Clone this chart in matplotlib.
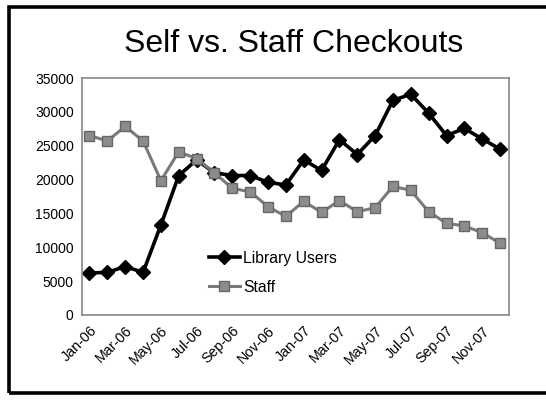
import matplotlib
matplotlib.use("Agg")
import matplotlib.pyplot as plt
from matplotlib.patches import Rectangle
from matplotlib.transforms import ScaledTranslation

plt.rcParams['font.family'] = ['Liberation Sans', 'DejaVu Sans']

months = ["Jan-06", "Feb-06", "Mar-06", "Apr-06", "May-06", "Jun-06", "Jul-06", "Aug-06",
          "Sep-06", "Oct-06", "Nov-06", "Dec-06", "Jan-07", "Feb-07", "Mar-07", "Apr-07",
          "May-07", "Jun-07", "Jul-07", "Aug-07", "Sep-07", "Oct-07", "Nov-07", "Dec-07"]
library_users = [6200, 6300, 7150, 6300, 13300, 20600, 22900, 21000, 20600, 20600, 19600, 19200,
                 22900, 21350, 25900, 23700, 26500, 31700, 32600, 29800, 26500, 27550, 26000, 24500]
staff = [26500, 25700, 27850, 25700, 19850, 24100, 23100, 21000, 18700, 18200, 16000, 14550,
         16800, 15150, 16900, 15250, 15850, 19000, 18400, 15250, 13550, 13150, 12150, 10600]
yticks = [0, 5000, 10000, 15000, 20000, 25000, 30000, 35000]

fig = plt.figure(figsize=(5.46, 4.0), dpi=100)
fig.patch.set_facecolor('white')

# outer frame
fig.add_artist(Rectangle((9/546, 7/400), 545/546, 386/400, transform=fig.transFigure,
                         fill=False, edgecolor='black', linewidth=2.6))

ax = fig.add_axes([82/546, 85/400, 427/546, 237/400])
x = list(range(len(months)))
ax.plot(x, library_users, color='black', linewidth=2.6, marker='D', markersize=7,
        markerfacecolor='black', markeredgecolor='black', label='Library Users')
ax.plot(x, staff, color='#7a7a7a', linewidth=2.2, marker='s', markersize=7,
        markerfacecolor='#8c8c8c', markeredgecolor='#666666', label='Staff')

ax.set_xlim(-0.42, 23.5)
ax.set_ylim(0, 35000)
ax.set_yticks(yticks)
ax.set_yticklabels([str(v) for v in yticks], fontsize=10)
ax.set_xticks(x[::2])
ax.set_xticklabels(months[::2], rotation=45, ha='right', va='top', fontsize=10.3,
                   rotation_mode='anchor')
offset = ScaledTranslation(-9/100, -2/100, fig.dpi_scale_trans)
for lbl in ax.get_xticklabels():
    lbl.set_transform(lbl.get_transform() + offset)
ax.tick_params(axis='both', length=0, pad=6)
for s in ax.spines.values():
    s.set_color('#888888')
    s.set_linewidth(1.2)

leg = ax.legend(loc='upper left', bbox_to_anchor=(0.278, 0.305), frameon=False,
                fontsize=11.3, handlelength=2.0, handletextpad=0.2, labelspacing=0.9,
                borderpad=0)

fig.text(0.537, 0.891, "Self vs. Staff Checkouts", ha='center', va='center', fontsize=23)

fig.savefig("out.png", dpi=100, facecolor='white')
